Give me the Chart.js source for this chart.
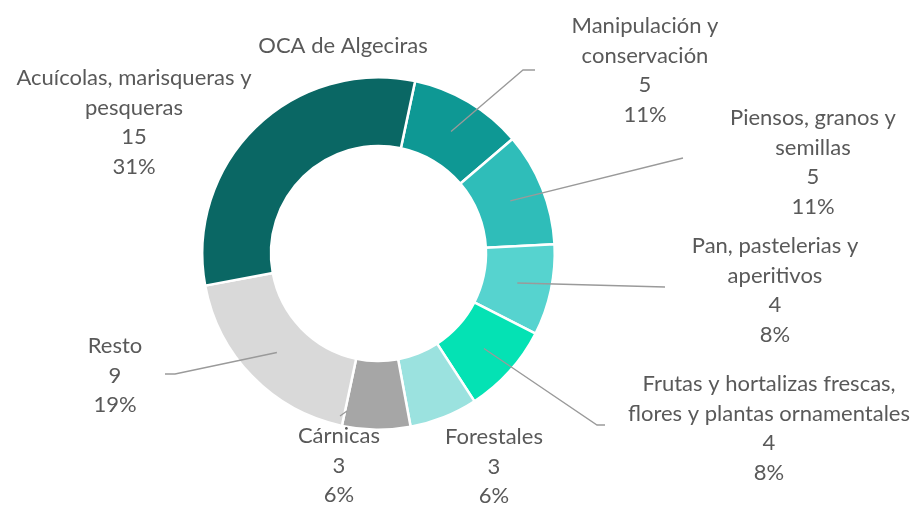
<!DOCTYPE html>
<html>
<head>
<meta charset="utf-8">
<script src="https://cdn.jsdelivr.net/npm/chart.js@4.4.1/dist/chart.umd.min.js"></script>
<style>
  html, body { margin: 0; padding: 0; background: #fff; }
  #ocaChart { display: block; }
</style>
</head>
<body>
<canvas id="ocaChart" width="923" height="505"></canvas>
<script>
// Datos del gráfico
var _titulo = 'OCA de Algeciras';
var _categorias = [
    ['Manipulación y', 'conservación'],
    ['Piensos, granos y', 'semillas'],
    ['Pan, pastelerias y', 'aperitivos'],
    ['Frutas y hortalizas frescas,', 'flores y plantas ornamentales'],
    ['Forestales'],
    ['Cárnicas'],
    ['Resto'],
    ['Acuícolas, marisqueras y', 'pesqueras']
];
var _valores = [5, 5, 4, 4, 3, 3, 9, 15];
var _porcentajes = ['11%', '11%', '8%', '8%', '6%', '6%', '19%', '31%'];

var _colores = ['#0e9894', '#2fbdb9', '#56d3cf', '#04e2b4', '#9be2df', '#a6a6a6', '#d9d9d9', '#0a6764'];

// Posición de las etiquetas (centro x, y de la primera línea) y líneas guía
var _posEtiquetas = [
    [645, 26], [813, 118], [775, 246], [769, 384],
    [494, 437], [339, 436], [115, 346], [134, 78]
];
var _guias = [
    [[523, 70], [535, 70]],
    [[683, 158]],
    [[665, 287]],
    [[597, 425], [605, 425]],
    null,
    [[340, 416], [347, 411]],
    [[175, 374], [165, 374]],
    null
];
var _altoLinea = 29.5;
var _fuente = '22px Lato, "Open Sans", sans-serif';
var _colorTexto = '#595959';

var etiquetasPlugin = {
    id: 'etiquetas',
    afterDatasetsDraw: function (chart) {
        var ctx = chart.ctx;
        var meta = chart.getDatasetMeta(0);
        ctx.save();
        // líneas guía
        ctx.strokeStyle = '#9a9a9a';
        ctx.lineWidth = 1.3;
        meta.data.forEach(function (arc, i) {
            var g = _guias[i];
            if (!g) return;
            var p = arc.tooltipPosition();
            ctx.beginPath();
            if (g.length === 2 && i === 5) {
                ctx.moveTo(g[0][0], g[0][1]);
                ctx.lineTo(g[1][0], g[1][1]);
            } else {
                ctx.moveTo(p.x, p.y);
                g.forEach(function (pt) { ctx.lineTo(pt[0], pt[1]); });
            }
            ctx.stroke();
        });
        // textos
        ctx.font = _fuente;
        ctx.fillStyle = _colorTexto;
        ctx.textAlign = 'center';
        ctx.textBaseline = 'middle';
        _categorias.forEach(function (lineas, i) {
            var x = _posEtiquetas[i][0];
            var y = _posEtiquetas[i][1];
            var textos = lineas.concat([String(_valores[i]), _porcentajes[i]]);
            textos.forEach(function (t, k) {
                ctx.fillText(t, x, y + k * _altoLinea);
            });
        });
        ctx.fillText(_titulo, 343, 46);
        ctx.restore();
    }
};

var ctx = document.getElementById('ocaChart').getContext('2d');
var _myChart = new Chart(ctx, {
    type: 'doughnut',
    data: {
        labels: _categorias,
        datasets: [{
            data: _valores,
            backgroundColor: _colores,
            borderColor: '#ffffff',
            borderWidth: 2.5
        }]
    },
    options: {
        responsive: false,
        animation: false,
        rotation: 12,
        cutout: '61%',
        layout: {
            padding: { top: 76, bottom: 74, left: 201, right: 367 }
        },
        plugins: {
            legend: { display: false },
            tooltip: { enabled: false },
            title: { display: false }
        }
    },
    plugins: [etiquetasPlugin]
});
</script>
</body>
</html>
